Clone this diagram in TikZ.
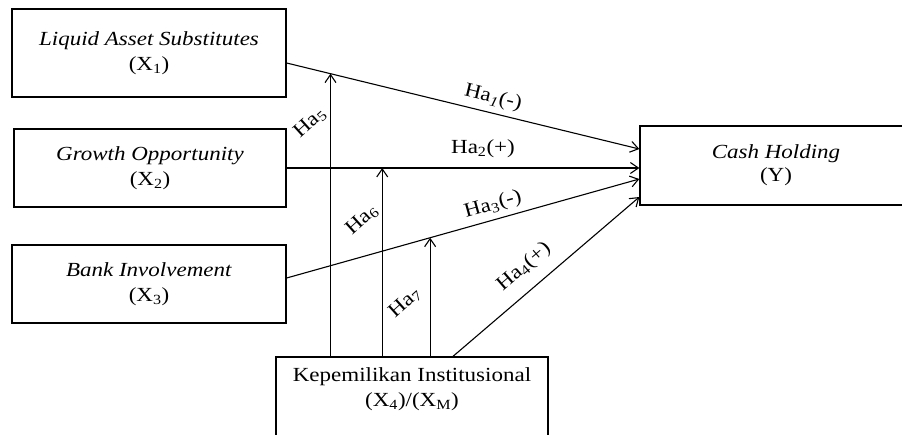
\documentclass[tikz,border=0pt]{standalone}
\usepackage{fontspec}
\setmainfont{Liberation Serif}[FakeStretch=1.15]
\usetikzlibrary{arrows.meta}
\begin{document}
\begin{tikzpicture}[x=1pt,y=-1pt,
  box/.style={draw, line width=1.3pt, inner sep=0pt, align=center,
    font=\fontsize{20}{25}\selectfont},
  txt/.style={inner sep=0pt, align=center, font=\fontsize{20}{25}\selectfont},
  link/.style={line width=1.1pt, -{Straight Barb[length=8pt,width=11pt]}},
  lab/.style={font=\fontsize{20}{24}\selectfont, inner sep=0pt}]
\clip (0,0) rectangle (902,434);
% boxes
\node[box, minimum width=274pt, minimum height=88pt] (x1) at (149,53)
  {\textit{Liquid Asset Substitutes}\\(X\textsubscript{1})};
\node[box, minimum width=272pt, minimum height=78pt] (x2) at (150,168)
  {\textit{Growth Opportunity}\\(X\textsubscript{2})};
\node[box, minimum width=274pt, minimum height=78pt] (x3) at (149,284)
  {\textit{Bank Involvement}\\(X\textsubscript{3})};
\node[box, minimum width=272pt, minimum height=79pt, font=\fontsize{20}{23}\selectfont] (y) at (776,165.5)
  {\textit{Cash Holding}\\(Y)};
\node[box, minimum width=272pt, minimum height=103pt] (x4) at (412,408.5) {};
\node[txt] (x4t) at (412,389) {Kepemilikan Institusional\\(X\textsubscript{4})/(X\textsubscript{M})};
% direct paths
\draw[link] ([yshift=-10pt]x1.east) -- coordinate[pos=0.1243] (p1) ([yshift=16.5pt]y.west);
\draw[link] ([yshift=0pt]x2.east) -- coordinate[pos=0.271] (p2) ([yshift=-2.5pt]y.west);
\draw[link] ([yshift=6pt]x3.east) -- coordinate[pos=0.4068] (p3) ([yshift=-13.5pt]y.west);
\draw[link] ([xshift=41pt]x4.north) -- ([yshift=-31.5pt]y.west);
% moderation paths
\draw[link] (p1 |- x4.north) -- (p1);
\draw[link] (p2 |- x4.north) -- (p2);
\draw[link] (p3 |- x4.north) -- (p3);
% labels
\node[lab, rotate=-13.66] (l1) at (493,98) {Ha\textsubscript{\textit{1}}(-)};
\node[lab] (l2) at (483,149) {Ha\textsubscript{2}(+)};
\node[lab, rotate=15.6] (l3) at (493,205) {Ha\textsubscript{3}(-)};
\node[lab, rotate=40.5] (l4) at (524,267) {Ha\textsubscript{4}(+)};
\node[lab, rotate=42] (l5) at (310,123) {Ha\textsubscript{5}};
\node[lab, rotate=42] (l6) at (362,220) {Ha\textsubscript{6}};
\node[lab, rotate=42] (l7) at (405,303) {Ha\textsubscript{7}};
\end{tikzpicture}
\end{document}
